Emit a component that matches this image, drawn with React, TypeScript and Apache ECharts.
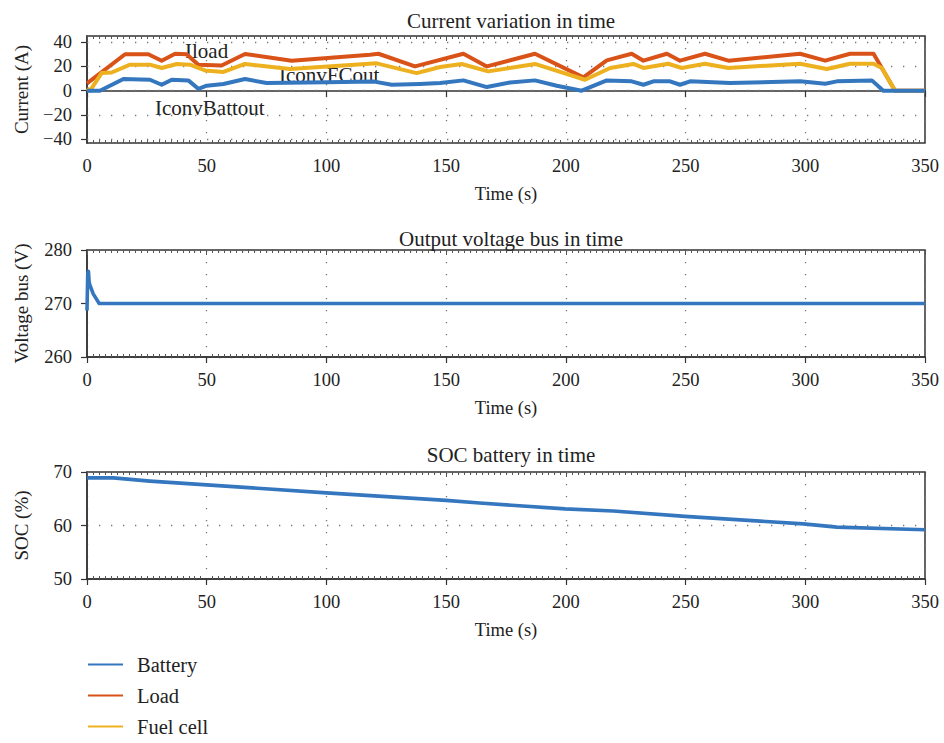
import React, { useEffect, useRef } from "react";
import * as echarts from "echarts";

// ---- Data ----
const loadCurrent: [number, number][] = [
  [0, 6], [15.9, 30], [25.6, 30], [31.2, 24.7], [36.8, 30.4], [41.6, 30], [46.5, 21.4],
  [56.2, 20.8], [66, 30.2], [85.5, 24.7], [118.2, 29.6], [121.7, 30.4], [137, 20],
  [157.2, 30.4], [167, 20], [187.1, 30.4], [207.3, 11], [217.1, 25], [227.5, 30.4],
  [232.4, 24.7], [242.2, 30.4], [247.7, 24.7], [258.1, 30.4], [267.9, 24.7], [297.8, 30.4],
  [308.3, 24.7], [318.7, 30.4], [328.5, 30.4], [337.5, 0], [350, 0],
];
const fuelCellCurrent: [number, number][] = [
  [0, 2], [1.3, 0], [6.1, 14.5], [10.3, 15], [18, 21.4], [26.3, 21.4], [31.2, 18.7],
  [37.5, 22], [43, 21.4], [49.3, 16.7], [57, 15.4], [66, 22], [84.8, 17.8], [121, 22.5],
  [137.7, 14.5], [147.5, 19.5], [156.5, 22], [167.6, 15.9], [187.1, 22], [208, 9],
  [218.5, 18.7], [228.2, 22], [232.4, 18.7], [242.8, 22.2], [248.4, 18.7], [258.1, 22.2],
  [267.9, 18.7], [297.8, 22.2], [309, 17.8], [318.7, 22.2], [328.5, 22.2], [332, 18.7],
  [337.5, 0], [350, 0],
];
const batteryCurrent: [number, number][] = [
  [0, 0], [5.4, 0], [15.2, 9.6], [26.3, 9], [31.2, 4.9], [35.4, 9], [42.3, 8.5], [46.5, 1.6],
  [50, 4.1], [57, 5.5], [66, 9.6], [75, 6.3], [100, 7], [120, 7.5], [127.3, 4.9], [139, 5.5],
  [147.5, 6.3], [157.2, 8.5], [167, 3], [176.7, 6.8], [187.1, 8.5], [196.2, 4.1], [206.6, 0],
  [217.1, 8.5], [227.5, 7.7], [232.4, 4.9], [236.6, 7.7], [243.5, 7.7], [247.7, 4.9],
  [251.9, 7.7], [268.6, 6.3], [297.8, 7.7], [308.3, 5.8], [313.2, 7.7], [327.8, 8.5],
  [332.6, 0], [350, 0],
];
const busVoltage: [number, number][] = [
  [0, 268.7], [0.3, 275.5], [0.6, 276], [0.9, 274], [1.2, 273.5], [2.6, 271.8], [5.1, 270], [350, 270],
];
const batterySoc: [number, number][] = [
  [0, 68.9], [11, 68.9], [26.3, 68.3], [50, 67.6], [100, 66.1], [150, 64.7], [164, 64.2],
  [199.7, 63.1], [219.8, 62.7], [249.8, 61.7], [299.2, 60.3], [313.2, 59.7], [350, 59.2],
];
const currentTicks = [-40, -20, 0, 20, 40];
const chartTitles = ["Current variation in time", "Output voltage bus in time", "SOC battery in time"];
const yNames = ["Current (A)", "Voltage bus (V)", "SOC (%)"];
const legendNames = ["Battery", "Load", "Fuel cell"];

const FONT = "Liberation Serif";
const BLUE = "#3577bf";
const ORANGE = "#d95319";
const YELLOW = "#edb120";
const TXT = "#222";
const dotted = { color: "#777", width: 1.3, type: [1.3, 10.7] as number[] };

const fmt = (v: number) => (v < 0 ? "\u2212" + Math.abs(v) : String(v));

export default function App() {
  const ref = useRef<HTMLDivElement>(null);
  useEffect(() => {
    if (!ref.current) return;
    const chart = echarts.init(ref.current, undefined, { renderer: "svg" });
    const grids = [
      { left: 87, width: 838, top: 36, height: 107 },
      { left: 87, width: 838, top: 250, height: 107 },
      { left: 87, width: 838, top: 472, height: 107 },
    ].map((g) => ({ ...g, show: true, borderColor: "#333", borderWidth: 1.5, backgroundColor: "transparent" }));

    const xAxes: any[] = [];
    const yAxes: any[] = [];
    [0, 1, 2].forEach((i) => {
      xAxes.push({
        type: "value", gridIndex: i, min: 0, max: 350, interval: 50, position: "bottom",
        name: "Time (s)", nameLocation: "middle", nameGap: 41,
        nameTextStyle: { fontFamily: FONT, fontSize: 18.5, color: TXT },
        axisLine: { show: true, lineStyle: { color: "#333", width: 1.5 } },
        axisTick: { show: true, inside: false, length: 6, lineStyle: { color: "#333", width: 1.2 } },
        axisLabel: { fontFamily: FONT, fontSize: 18.5, color: TXT, margin: 13 },
        splitLine: { show: true, lineStyle: dotted },
      });
      xAxes.push({
        type: "value", gridIndex: i, min: 0, max: 350, interval: 50, position: "bottom",
        axisLine: { show: false }, axisLabel: { show: false }, splitLine: { show: false },
        axisTick: { show: false, inside: true },
        minorTick: { show: true, splitNumber: 20, length: 3, lineStyle: { color: "#555", width: 1 } },
      });
      xAxes.push({
        type: "value", gridIndex: i, min: 0, max: 350, interval: 50, position: "top",
        axisLine: { show: false }, axisLabel: { show: false }, splitLine: { show: false },
        axisTick: { show: true, inside: true, length: 5, lineStyle: { color: "#555", width: 1 } },
        minorTick: { show: true, splitNumber: 20, length: 3, lineStyle: { color: "#555", width: 1 } },
      });
    });

    const yCommon = (i: number) => ({
      type: "value", gridIndex: i, position: "left",
      name: yNames[i], nameLocation: "middle", nameGap: 56, nameRotate: 90,
      nameTextStyle: { fontFamily: FONT, fontSize: 19, color: TXT },
      axisLine: { show: true, lineStyle: { color: "#333", width: 1.5 } },
      axisTick: { show: true, inside: false, length: 6, lineStyle: { color: "#333", width: 1.2 } },
      axisLabel: { fontFamily: FONT, fontSize: 18.5, color: TXT, margin: 15, formatter: fmt },
      splitLine: { show: true, lineStyle: dotted },
    });
    yAxes.push({
      ...yCommon(0), min: -43, max: 45,
      axisLabel: { ...yCommon(0).axisLabel, customValues: currentTicks },
      axisTick: { ...yCommon(0).axisTick, customValues: currentTicks },
      splitLine: { show: false },
    });
    yAxes.push({ ...yCommon(1), min: 260, max: 280, interval: 10 });
    yAxes.push({ ...yCommon(2), min: 50, max: 70, interval: 10 });

    const lineSeries = (name: string, data: [number, number][], color: string, gi: number, w: number) => ({
      type: "line", name, data, xAxisIndex: gi * 3, yAxisIndex: gi, showSymbol: false, symbol: "none",
      lineStyle: { color, width: w, join: "round" }, itemStyle: { color }, z: 3,
    });

    const loadS: any = lineSeries("Load", loadCurrent, ORANGE, 0, 4);
    loadS.markLine = {
      silent: true, symbol: "none", label: { show: false }, z: 1,
      lineStyle: dotted, animation: false,
      data: currentTicks.map((v) => ({ yAxis: v })),
    };

    chart.setOption({
      animation: false,
      backgroundColor: "#fff",
      title: chartTitles.map((t, i) => ({
        text: t, left: 506, textAlign: "center", top: [5, 223, 439][i],
        textStyle: { fontFamily: FONT, fontSize: 21, fontWeight: "normal", color: TXT },
      })),
      grid: grids,
      xAxis: xAxes,
      yAxis: yAxes,
      legend: {
        orient: "vertical", left: 88, top: 654, icon: "rect", itemWidth: 35, itemHeight: 2,
        itemGap: 10, padding: 0, data: legendNames,
        textStyle: { fontFamily: FONT, fontSize: 20.5, color: TXT, padding: [0, 0, 0, 9] },
      },
      graphic: [
        { type: "text", left: 185, top: 40, style: { text: "Iload", fontFamily: FONT, fontSize: 21, fill: TXT } },
        { type: "text", left: 279, top: 64, style: { text: "IconvFCout", fontFamily: FONT, fontSize: 21, fill: TXT } },
        { type: "text", left: 155, top: 97, style: { text: "IconvBattout", fontFamily: FONT, fontSize: 21, fill: TXT } },
      ],
      series: [
        loadS,
        lineSeries("Fuel cell", fuelCellCurrent, YELLOW, 0, 4),
        lineSeries("Battery", batteryCurrent, BLUE, 0, 4),
        lineSeries("Voltage bus", busVoltage, BLUE, 1, 3.6),
        lineSeries("SOC", batterySoc, BLUE, 2, 3.6),
      ],
    });
    return () => chart.dispose();
  }, []);
  return <div ref={ref} style={{ width: 944, height: 743, position: "absolute", left: 0, top: 0 }} />;
}
